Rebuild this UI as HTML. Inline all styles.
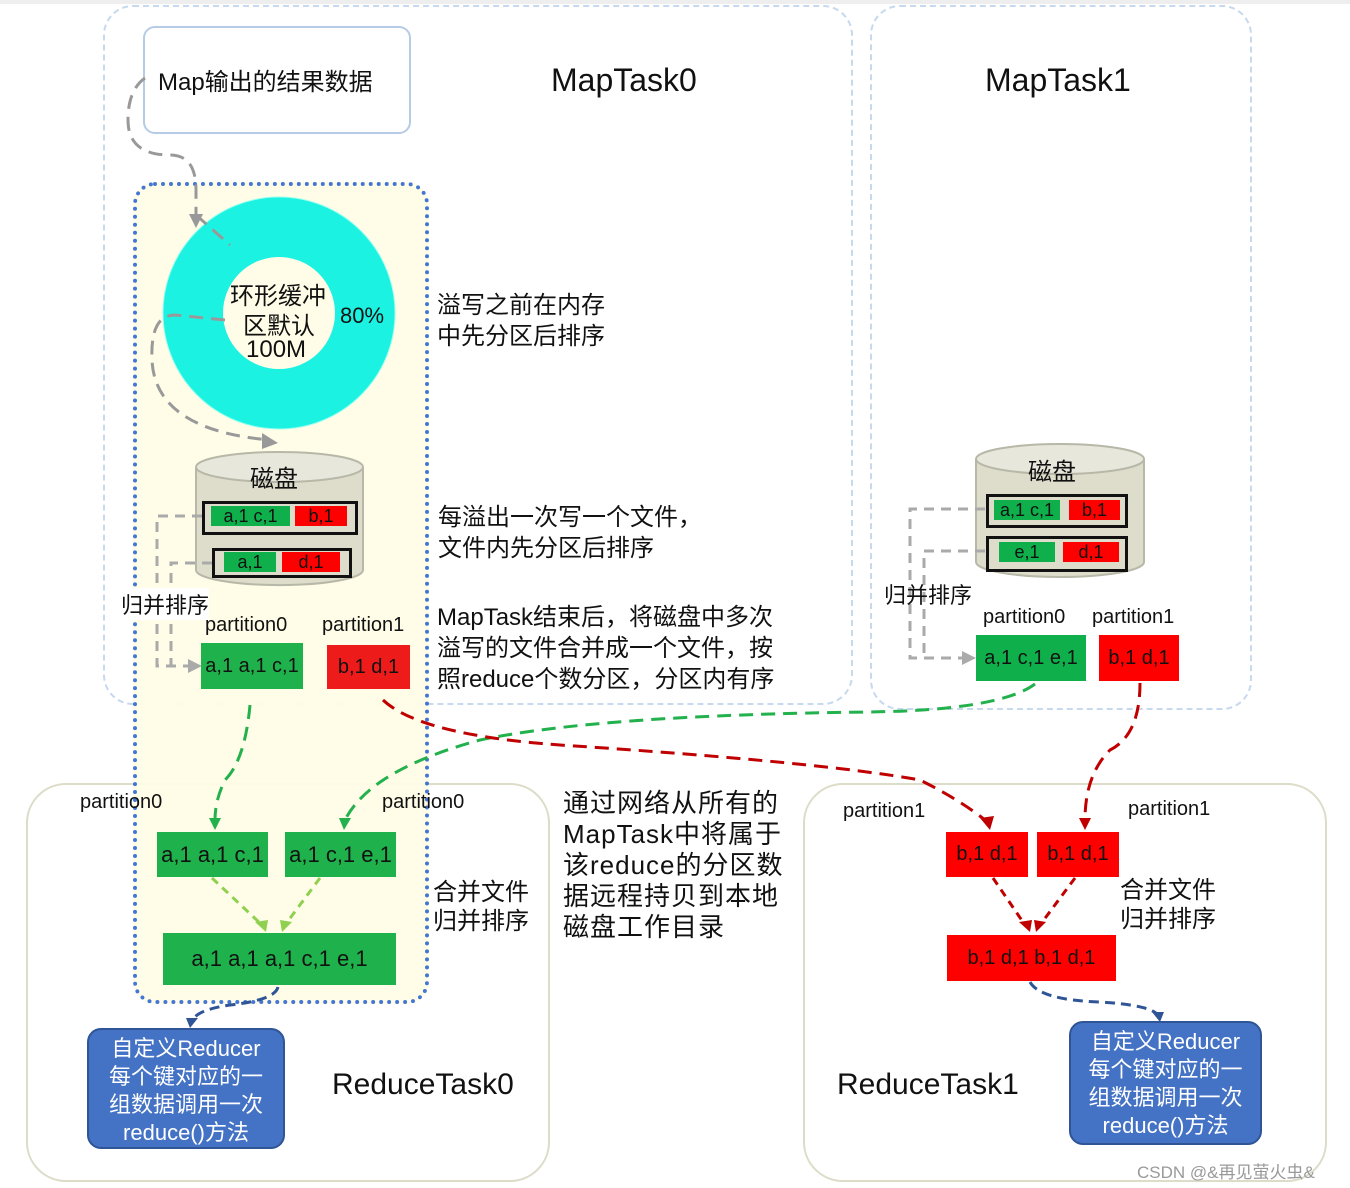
<!DOCTYPE html>
<html><head><meta charset="utf-8"><style>
body{margin:0;width:1350px;height:1188px;background:#fff;position:relative;overflow:hidden;font-family:"Liberation Sans","Noto Sans CJK SC",sans-serif;color:#111}
.a{position:absolute}
.g{position:absolute;background:#1fb24c;color:#111;font-size:20px;text-align:center}
.r{position:absolute;background:#ee1b1b;color:#111;font-size:20px;text-align:center}
.t{position:absolute;white-space:nowrap}
</style></head><body>
<div class="a" style="left:0;top:0;width:1350px;height:4px;background:#eee"></div>
<div class="a" style="left:103px;top:5px;width:746px;height:696px;border:2px dashed #c7d9ee;border-radius:30px"></div>
<div class="a" style="left:870px;top:5px;width:378px;height:701px;border:2px dashed #c7d9ee;border-radius:30px"></div>
<div class="a" style="left:26px;top:783px;width:520px;height:395px;border:2px solid #dcdcc8;border-radius:40px"></div>
<div class="a" style="left:803px;top:783px;width:520px;height:395px;border:2px solid #dcdcc8;border-radius:40px"></div>
<div class="a" style="left:133px;top:182px;width:288px;height:814px;background:#fffde6;border:4px dotted #3b6fd2;border-radius:22px;opacity:.95"></div>
<div class="a" style="left:143px;top:26px;width:264px;height:104px;border:2px solid #b6cbe6;border-radius:12px;background:#fff"></div>
<div class="t" style="left:158px;top:62px;font-size:24px">Map输出的结果数据</div>
<div class="t" style="left:551px;top:62px;font-size:32px">MapTask0</div>
<div class="t" style="left:985px;top:62px;font-size:32px">MapTask1</div>
<svg class="a" style="left:0;top:0" width="1350" height="1188">
<circle cx="279" cy="313" r="86" fill="none" stroke="#1cf2e2" stroke-width="60"/>
<circle cx="279" cy="313" r="116" fill="none" stroke="#9fe" stroke-width="1"/>
<!-- disks -->
<g fill="#deddcb" stroke="#b8b8a8" stroke-width="2">
<path d="M196 467 v103 a83 15 0 0 0 167 0 v-103"/>
<ellipse cx="279.5" cy="467" rx="83.5" ry="15" fill="#e8e7dc"/>
<path d="M976 459 v103 a84 15 0 0 0 168 0 v-103"/>
<ellipse cx="1060" cy="459" rx="84" ry="15" fill="#e8e7dc"/>
</g>
<g fill="none" stroke="#999" stroke-width="3" stroke-dasharray="14 8">
<path d="M145 78 Q128 90 128 120 Q128 155 170 155 Q196 155 196 190 L196 215"/>
<path d="M196 215 L230 245"/>
<path d="M225 320 L175 315 Q150 315 152 360 Q155 430 270 440"/>
</g>
<polygon points="189,214 203,214 196,228" fill="#999"/>
<polygon points="262,433 278,443 262,449" fill="#999"/>
<g fill="none" stroke="#aaa" stroke-width="3" stroke-dasharray="10 7">
<path d="M202 516 H157 V666 H190"/><path d="M212 563 H171 V666"/>
<path d="M985 509 H910 V658 H965"/><path d="M985 551 H924 V658"/>
</g>
<polygon points="188,659 202,666 188,673" fill="#aaa"/>
<polygon points="962,651 976,658 962,665" fill="#aaa"/>
<g fill="none" stroke-width="3" stroke-dasharray="14 8">
<path d="M250 705 Q245 760 225 780 Q215 800 215 820" stroke="#22b14c"/>
<path d="M1035 684 Q1000 710 870 712 Q600 715 480 740 Q370 770 345 820" stroke="#22b14c"/>
<path d="M383 700 Q420 735 560 745 Q820 762 920 780 Q960 800 985 820" stroke="#c00000"/>
<path d="M1140 683 Q1140 735 1110 750 Q1085 775 1085 820" stroke="#c00000"/>
<path d="M212 878 L262 925 M320 878 L285 925" stroke="#90d050" stroke-dasharray="8 6"/>
<path d="M993 878 L1025 925 M1075 878 L1040 925" stroke="#c00000" stroke-dasharray="8 6"/>
<path d="M278 987 Q275 1000 230 1005 Q195 1010 192 1022" stroke="#2f5597" stroke-dasharray="10 6"/>
<path d="M1030 982 Q1040 1000 1100 1002 Q1150 1005 1158 1015" stroke="#2f5597" stroke-dasharray="10 6"/>
</g>
<polygon points="209,818 221,818 215,830" fill="#22b14c"/>
<polygon points="339,818 351,818 344,830" fill="#22b14c"/>
<polygon points="980,818 994,816 990,830" fill="#c00000"/>
<polygon points="1079,818 1091,818 1085,830" fill="#c00000"/>
<polygon points="255,922 268,920 266,932" fill="#90d050"/>
<polygon points="280,920 292,922 282,932" fill="#90d050"/>
<polygon points="1019,922 1032,920 1030,932" fill="#c00000"/>
<polygon points="1034,920 1046,922 1036,932" fill="#c00000"/>
<polygon points="186,1018 198,1018 190,1028" fill="#2f5597"/>
<polygon points="1152,1012 1164,1012 1160,1022" fill="#2f5597"/>
</svg>
<div class="t" style="left:230px;top:276px;font-size:24px">环形缓冲</div>
<div class="t" style="left:243px;top:306px;font-size:24px">区默认</div>
<div class="t" style="left:246px;top:336px;font-size:24px">100M</div>
<div class="t" style="left:340px;top:303px;font-size:22px">80%</div>
<div class="t" style="left:437px;top:290px;font-size:24px;line-height:31px">溢写之前在内存<br>中先分区后排序</div>
<div class="t" style="left:250px;top:459px;font-size:24px">磁盘</div>
<div class="t" style="left:1028px;top:452px;font-size:24px">磁盘</div>
<div class="a" style="left:202px;top:501px;width:150px;height:28px;border:3px solid #111"></div>
<div class="g" style="left:211px;top:506px;width:79px;height:20px;line-height:20px;font-size:18px;background:#0fb04c">a,1 c,1</div>
<div class="r" style="left:295px;top:506px;width:52px;height:20px;line-height:20px;font-size:18px;background:#f00">b,1</div>
<div class="a" style="left:212px;top:548px;width:134px;height:24px;border:3px solid #111"></div>
<div class="g" style="left:224px;top:552px;width:52px;height:20px;line-height:20px;font-size:18px;background:#0fb04c">a,1</div>
<div class="r" style="left:282px;top:552px;width:58px;height:20px;line-height:20px;font-size:18px;background:#f00">d,1</div>
<div class="a" style="left:986px;top:494px;width:136px;height:28px;border:3px solid #111"></div>
<div class="g" style="left:994px;top:500px;width:66px;height:20px;line-height:20px;font-size:18px;background:#0fb04c">a,1 c,1</div>
<div class="r" style="left:1069px;top:500px;width:51px;height:20px;line-height:20px;font-size:18px;background:#f00">b,1</div>
<div class="a" style="left:986px;top:536px;width:136px;height:30px;border:3px solid #111"></div>
<div class="g" style="left:999px;top:542px;width:56px;height:20px;line-height:20px;font-size:18px;background:#0fb04c">e,1</div>
<div class="r" style="left:1063px;top:542px;width:56px;height:20px;line-height:20px;font-size:18px;background:#f00">d,1</div>
<div class="t" style="left:438px;top:502px;font-size:24px;line-height:31px">每溢出一次写一个文件，<br>文件内先分区后排序</div>
<div class="t" style="left:437px;top:602px;font-size:24px;line-height:31px">MapTask结束后，将磁盘中多次<br>溢写的文件合并成一个文件，按<br>照reduce个数分区，分区内有序</div>
<div class="t" style="left:121px;top:588px;font-size:22px;background:#fff">归并排序</div>
<div class="t" style="left:884px;top:578px;font-size:22px">归并排序</div>
<div class="t" style="left:205px;top:614px;font-size:20px">partition0</div>
<div class="t" style="left:322px;top:614px;font-size:20px">partition1</div>
<div class="t" style="left:983px;top:606px;font-size:20px">partition0</div>
<div class="t" style="left:1092px;top:606px;font-size:20px">partition1</div>
<div class="g" style="left:201px;top:643px;width:102px;height:46px;line-height:46px">a,1 a,1 c,1</div>
<div class="r" style="left:327px;top:645px;width:83px;height:44px;line-height:44px">b,1 d,1</div>
<div class="g" style="left:976px;top:635px;width:110px;height:46px;line-height:46px;background:#0fb04c">a,1 c,1 e,1</div>
<div class="r" style="left:1099px;top:635px;width:80px;height:46px;line-height:46px;background:#f00">b,1 d,1</div>
<div class="t" style="left:80px;top:791px;font-size:20px">partition0</div>
<div class="t" style="left:382px;top:791px;font-size:20px">partition0</div>
<div class="t" style="left:843px;top:800px;font-size:20px">partition1</div>
<div class="t" style="left:1128px;top:798px;font-size:20px">partition1</div>
<div class="g" style="left:157px;top:832px;width:111px;height:45px;line-height:45px;font-size:22px">a,1 a,1 c,1</div>
<div class="g" style="left:285px;top:832px;width:111px;height:45px;line-height:45px;font-size:22px">a,1 c,1 e,1</div>
<div class="g" style="left:163px;top:933px;width:233px;height:52px;line-height:52px;font-size:22px">a,1 a,1 a,1 c,1 e,1</div>
<div class="r" style="left:946px;top:832px;width:82px;height:45px;line-height:45px;background:#f00">b,1 d,1</div>
<div class="r" style="left:1037px;top:832px;width:82px;height:45px;line-height:45px;background:#f00">b,1 d,1</div>
<div class="r" style="left:947px;top:935px;width:169px;height:46px;line-height:46px;background:#f00">b,1 d,1 b,1 d,1</div>
<div class="t" style="left:433px;top:878px;font-size:24px;line-height:29px">合并文件<br>归并排序</div>
<div class="t" style="left:1120px;top:876px;font-size:24px;line-height:29px">合并文件<br>归并排序</div>
<div class="t" style="left:563px;top:788px;font-size:26px;line-height:31px;letter-spacing:1px">通过网络从所有的<br>MapTask中将属于<br>该reduce的分区数<br>据远程持贝到本地<br>磁盘工作目录</div>
<div class="a" style="left:87px;top:1028px;width:198px;height:121px;background:#4472c4;border:2px solid #2f5597;border-radius:14px;color:#fff;font-size:22px;line-height:28px;text-align:center;padding-top:5px;box-sizing:border-box">自定义Reducer<br>每个键对应的一<br>组数据调用一次<br>reduce()方法</div>
<div class="a" style="left:1069px;top:1021px;width:193px;height:124px;background:#4472c4;border:2px solid #2f5597;border-radius:14px;color:#fff;font-size:22px;line-height:28px;text-align:center;padding-top:5px;box-sizing:border-box">自定义Reducer<br>每个键对应的一<br>组数据调用一次<br>reduce()方法</div>
<div class="t" style="left:332px;top:1068px;font-size:30px">ReduceTask0</div>
<div class="t" style="left:837px;top:1068px;font-size:30px">ReduceTask1</div>
<div class="t" style="left:1137px;top:1158px;font-size:17px;color:#999">CSDN @&amp;再见萤火虫&amp;</div>
</body></html>
